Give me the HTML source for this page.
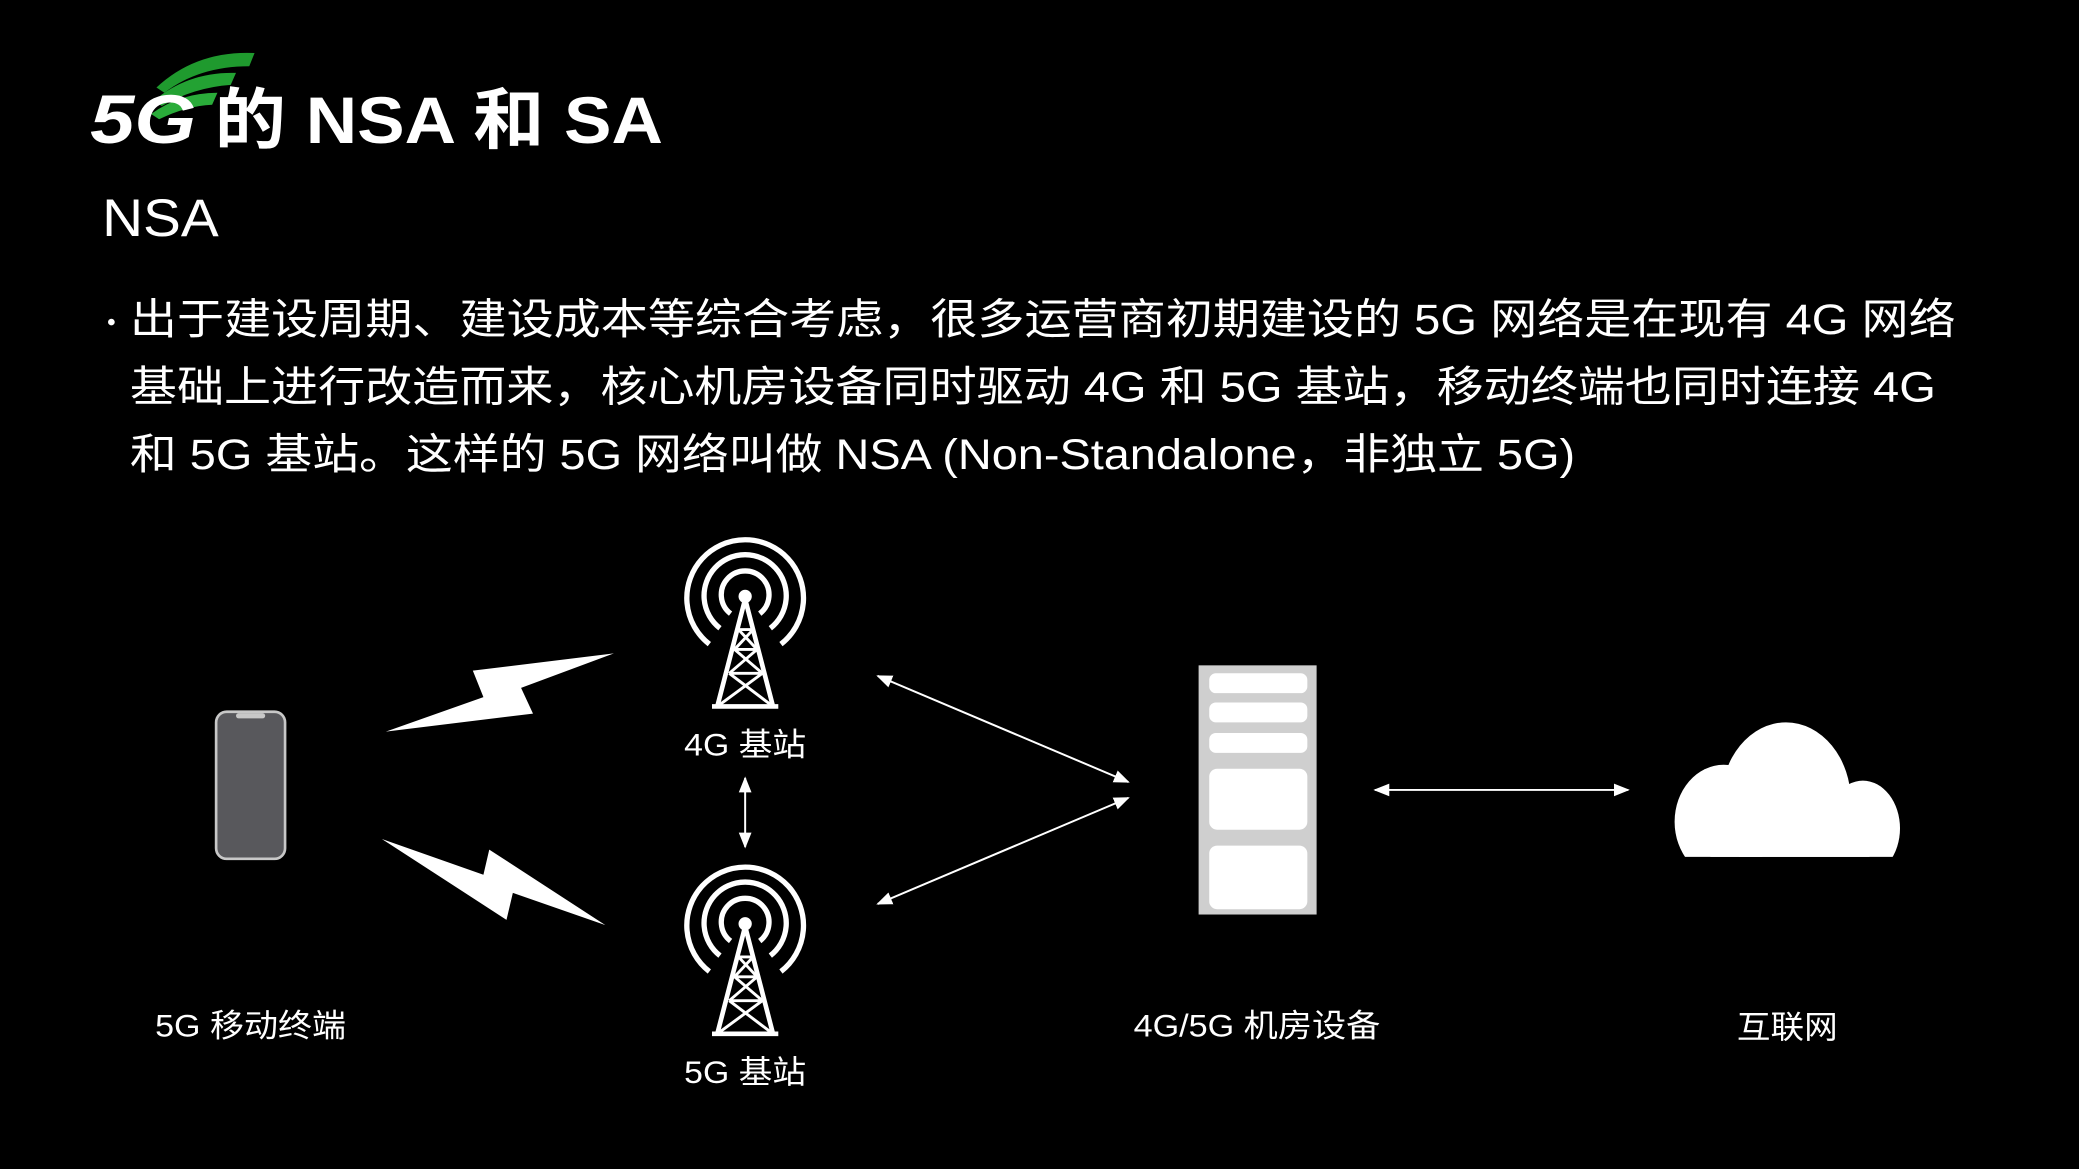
<!DOCTYPE html>
<html><head><meta charset="utf-8"><style>
html,body{margin:0;padding:0;background:#000;}
svg{display:block;}
text{font-family:"Liberation Sans","Noto Sans CJK SC",sans-serif;fill:#fff;}
</style></head><body>
<svg width="2079" height="1169" viewBox="0 0 1568 882" preserveAspectRatio="none" xmlns="http://www.w3.org/2000/svg">
<rect width="1568" height="882" fill="#000"/>
<!-- logo waves -->
<path d="M118,66 Q148,38 192,40 L188,50 Q150,50 124,70 Z" fill="#1f9a2e"/>
<path d="M116,76 Q142,54 178,55 L174,64 Q146,66 122,80 Z" fill="#23a233"/>
<path d="M114,86 Q136,70 164,70 L160,79 Q140,80 120,90 Z" fill="#2aac3a"/>
<text x="68" y="108" font-size="52" font-weight="bold" font-style="italic" textLength="80" lengthAdjust="spacingAndGlyphs" fill="#eee">5G</text>
<text x="162" y="108" font-size="50" font-weight="bold" textLength="338" lengthAdjust="spacingAndGlyphs">的 NSA 和 SA</text>
<text x="77" y="178" font-size="40" textLength="88" lengthAdjust="spacingAndGlyphs">NSA</text>
<circle cx="84" cy="243" r="2.5" fill="#fff"/>
<text x="98" y="252" font-size="32" textLength="1377" lengthAdjust="spacingAndGlyphs">出于建设周期、建设成本等综合考虑，很多运营商初期建设的 5G 网络是在现有 4G 网络</text>
<text x="98" y="303" font-size="32" textLength="1362" lengthAdjust="spacingAndGlyphs">基础上进行改造而来，核心机房设备同时驱动 4G 和 5G 基站，移动终端也同时连接 4G</text>
<text x="98" y="354" font-size="32" textLength="1090" lengthAdjust="spacingAndGlyphs">和 5G 基站。这样的 5G 网络叫做 NSA (Non-Standalone，非独立 5G)</text>
<!-- phone -->
<rect x="163" y="537" width="52" height="111" rx="8" fill="#58585c" stroke="#c8c8c8" stroke-width="2"/>
<rect x="178" y="538" width="22" height="4" rx="2" fill="#c8c8c8"/>
<!-- lightning -->
<polygon points="291,552 364.6,526 356.6,506 463,493 393,519 402,538.4" fill="#fff"/>
<polygon points="288,633 364.6,660 369,641 456.6,698 386.8,673.7 382,694" fill="#fff"/>
<!-- towers -->
<g id="t1" fill="none" stroke="#fff" stroke-width="4">
<path d="M535,486 A44,44 0 1 1 589,486"/>
<path d="M543,474 A31,31 0 1 1 581,474"/>
<path d="M551,463 A18,18 0 1 1 573,463"/>
<path d="M562,452 L541,533 M562,452 L583,533 M537,533 L587,533" stroke-width="3.5"/>
<path d="M557,475 L568,475 M554,490 L571,490 M550,508 L575,508 M557,475 L571,490 L554,490 L568,475 M554,490 L575,508 M571,490 L550,508 M550,508 L583,533 M575,508 L541,533" stroke-width="2.2"/>
<circle cx="562" cy="450" r="5" fill="#fff" stroke="none"/>
</g>
<use href="#t1" transform="translate(0,247)"/>
<text x="562" y="570" font-size="24" text-anchor="middle" textLength="92" lengthAdjust="spacingAndGlyphs">4G 基站</text>
<text x="562" y="817" font-size="24" text-anchor="middle" textLength="92" lengthAdjust="spacingAndGlyphs">5G 基站</text>
<text x="189" y="782" font-size="24" text-anchor="middle" textLength="144" lengthAdjust="spacingAndGlyphs">5G 移动终端</text>
<text x="948" y="782" font-size="24" text-anchor="middle" textLength="186" lengthAdjust="spacingAndGlyphs">4G/5G 机房设备</text>
<text x="1348" y="783" font-size="24" text-anchor="middle" textLength="76" lengthAdjust="spacingAndGlyphs">互联网</text>
<!-- arrows -->
<defs>
<marker id="a" viewBox="0 0 10 10" refX="9" refY="5" markerWidth="8" markerHeight="8" orient="auto-start-reverse"><path d="M0,1 L10,5 L0,9 Z" fill="#fff"/></marker>
<clipPath id="cc"><rect x="1250" y="530" width="200" height="116.5"/></clipPath>
</defs>
<g stroke="#fff" stroke-width="1.5" marker-start="url(#a)" marker-end="url(#a)">
<line x1="562" y1="587" x2="562" y2="639"/>
<line x1="662" y1="510" x2="851" y2="590"/>
<line x1="662" y1="682" x2="851" y2="602"/>
<line x1="1037" y1="596" x2="1228" y2="596"/>
</g>
<!-- server -->
<rect x="904" y="502" width="89" height="188" fill="#cfcfcf"/>
<g fill="#fff">
<rect x="912" y="508" width="74" height="15" rx="5"/>
<rect x="912" y="530" width="74" height="15" rx="5"/>
<rect x="912" y="553" width="74" height="15" rx="5"/>
<rect x="912" y="580" width="74" height="46" rx="6"/>
<rect x="912" y="638" width="74" height="48" rx="6"/>
</g>
<!-- cloud -->
<g fill="#fff" clip-path="url(#cc)">
<ellipse cx="1347" cy="605" rx="49" ry="60"/>
<ellipse cx="1300" cy="620" rx="37" ry="43"/>
<ellipse cx="1405" cy="625" rx="28" ry="36"/>
<rect x="1290" y="600" width="120" height="50"/>
</g>
</svg>
</body></html>
